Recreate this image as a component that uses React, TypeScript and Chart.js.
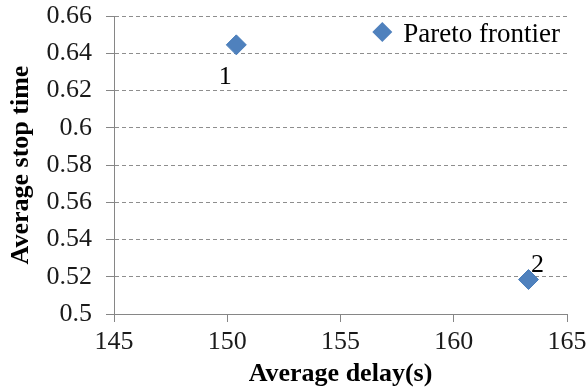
import React, { useEffect, useRef } from 'react';
import { Chart, registerables } from 'chart.js';

Chart.register(...registerables);

// ---- data ----
const seriesName = 'Pareto frontier';
const delayValues = [150.4, 163.3];
const stopTimeValues = [0.6445, 0.5185];
const pointLabels = ['1', '2'];
const xTickValues = [145, 150, 155, 160, 165];
const xTickLabels = ['145', '150', '155', '160', '165'];
const yTickValues = [0.5, 0.52, 0.54, 0.56, 0.58, 0.6, 0.62, 0.64, 0.66];
const yTickLabels = ['0.5', '0.52', '0.54', '0.56', '0.58', '0.6', '0.62', '0.64', '0.66'];
const xTitle = 'Average delay(s)';
const yTitle = 'Average stop time';

// ---- style ----
const FONT = '"Liberation Serif", "Times New Roman", serif';
const POINT_COLOR = '#4F81BD';
const AXIS_COLOR = '#868686';
const GRID_COLOR = '#8e8e8e';
const TEXT_COLOR = '#1a1a1a';
const LABEL_OFFSETS: [number, number][] = [[-11, 32], [9, -14]];

const pointLabelPlugin = {
  id: 'pointLabels',
  afterDatasetsDraw(chart: any) {
    const meta = chart.getDatasetMeta(0);
    const ctx = chart.ctx;
    ctx.save();
    ctx.font = `26px ${FONT}`;
    ctx.fillStyle = '#000';
    ctx.textAlign = 'center';
    ctx.textBaseline = 'middle';
    meta.data.forEach((el: any, i: number) => {
      const [dx, dy] = LABEL_OFFSETS[i];
      ctx.fillText(pointLabels[i], el.x + dx, el.y + dy);
    });
    ctx.restore();
  },
};

const insideLegendPlugin = {
  id: 'insideLegend',
  afterDraw(chart: any) {
    const { ctx, chartArea } = chart;
    const ds = chart.data.datasets[0];
    ctx.save();
    ctx.font = `27px ${FONT}`;
    const textW = ctx.measureText(ds.label).width;
    const textX = chartArea.right - 7 - textW;
    const baseY = chartArea.top + 26;
    const cx = textX - 21;
    const cy = chartArea.top + 16;
    const r = ds.pointRadius;
    ctx.beginPath();
    ctx.moveTo(cx - r, cy);
    ctx.lineTo(cx, cy - r);
    ctx.lineTo(cx + r, cy);
    ctx.lineTo(cx, cy + r);
    ctx.closePath();
    ctx.fillStyle = ds.backgroundColor;
    ctx.fill();
    ctx.fillStyle = '#000';
    ctx.textAlign = 'left';
    ctx.textBaseline = 'alphabetic';
    ctx.fillText(ds.label, textX, baseY);
    ctx.restore();
  },
};

export default function App() {
  const canvasRef = useRef<HTMLCanvasElement | null>(null);

  useEffect(() => {
    document.body.style.margin = '0';
    const canvas = canvasRef.current;
    if (!canvas) return;
    const chart = new Chart(canvas, {
      type: 'scatter',
      data: {
        datasets: [
          {
            label: seriesName,
            data: delayValues.map((x, i) => ({ x, y: stopTimeValues[i] })),
            pointStyle: 'rectRot',
            pointRadius: 10,
            pointHoverRadius: 10,
            backgroundColor: POINT_COLOR,
            borderColor: '#4A7EBB',
            borderWidth: 1,
            showLine: false,
          } as any,
        ],
      },
      plugins: [pointLabelPlugin, insideLegendPlugin],
      options: {
        responsive: false,
        maintainAspectRatio: false,
        animation: false,
        layout: { padding: { left: 0, top: 16, right: 19, bottom: 0 } },
        plugins: {
          legend: { display: false },
          tooltip: { enabled: false },
        },
        scales: {
          x: {
            type: 'linear',
            position: 'bottom',
            min: xTickValues[0],
            max: xTickValues[xTickValues.length - 1],
            afterBuildTicks: (s: any) => {
              s.ticks = xTickValues.map((v) => ({ value: v }));
            },
            afterFit: (s: any) => {
              s.height = 77;
              s.paddingLeft = 0;
              s.paddingRight = 0;
            },
            grid: {
              drawOnChartArea: false,
              drawTicks: true,
              tickLength: 8,
              tickColor: AXIS_COLOR,
              tickWidth: 1,
            },
            border: { display: true, color: AXIS_COLOR, width: 1 },
            ticks: {
              autoSkip: false,
              maxRotation: 0,
              padding: 5,
              color: TEXT_COLOR,
              font: { family: FONT, size: 26 },
              callback: (_v: any, i: number) => xTickLabels[i],
            },
            title: {
              display: true,
              text: xTitle,
              color: '#000',
              font: { family: FONT, size: 26, weight: 'bold' },
              padding: { top: 0, bottom: 1 },
            },
          },
          y: {
            type: 'linear',
            position: 'left',
            min: yTickValues[0],
            max: yTickValues[yTickValues.length - 1],
            afterBuildTicks: (s: any) => {
              s.ticks = yTickValues.map((v) => ({ value: v }));
            },
            afterFit: (s: any) => {
              s.width = 114;
              s.paddingTop = 0;
              s.paddingBottom = 0;
            },
            grid: {
              color: GRID_COLOR,
              lineWidth: 1,
              drawTicks: true,
              tickLength: 8,
              tickColor: AXIS_COLOR,
              tickWidth: 1,
              tickBorderDash: [],
            },
            border: { display: true, color: AXIS_COLOR, width: 1, dash: [4, 3] },
            ticks: {
              autoSkip: false,
              padding: 14,
              color: TEXT_COLOR,
              font: { family: FONT, size: 26 },
              callback: (_v: any, i: number) => yTickLabels[i],
            },
            title: {
              display: true,
              text: yTitle,
              color: '#000',
              font: { family: FONT, size: 26, weight: 'bold' },
              padding: { top: 6, bottom: 0 },
            },
          },
        },
      } as any,
    });
    return () => chart.destroy();
  }, []);

  return (
    <div style={{ position: 'absolute', left: 0, top: 0, width: 586, height: 391, background: '#fff' }}>
      <canvas ref={canvasRef} width={586} height={391} style={{ display: 'block', width: 586, height: 391 }} />
    </div>
  );
}
